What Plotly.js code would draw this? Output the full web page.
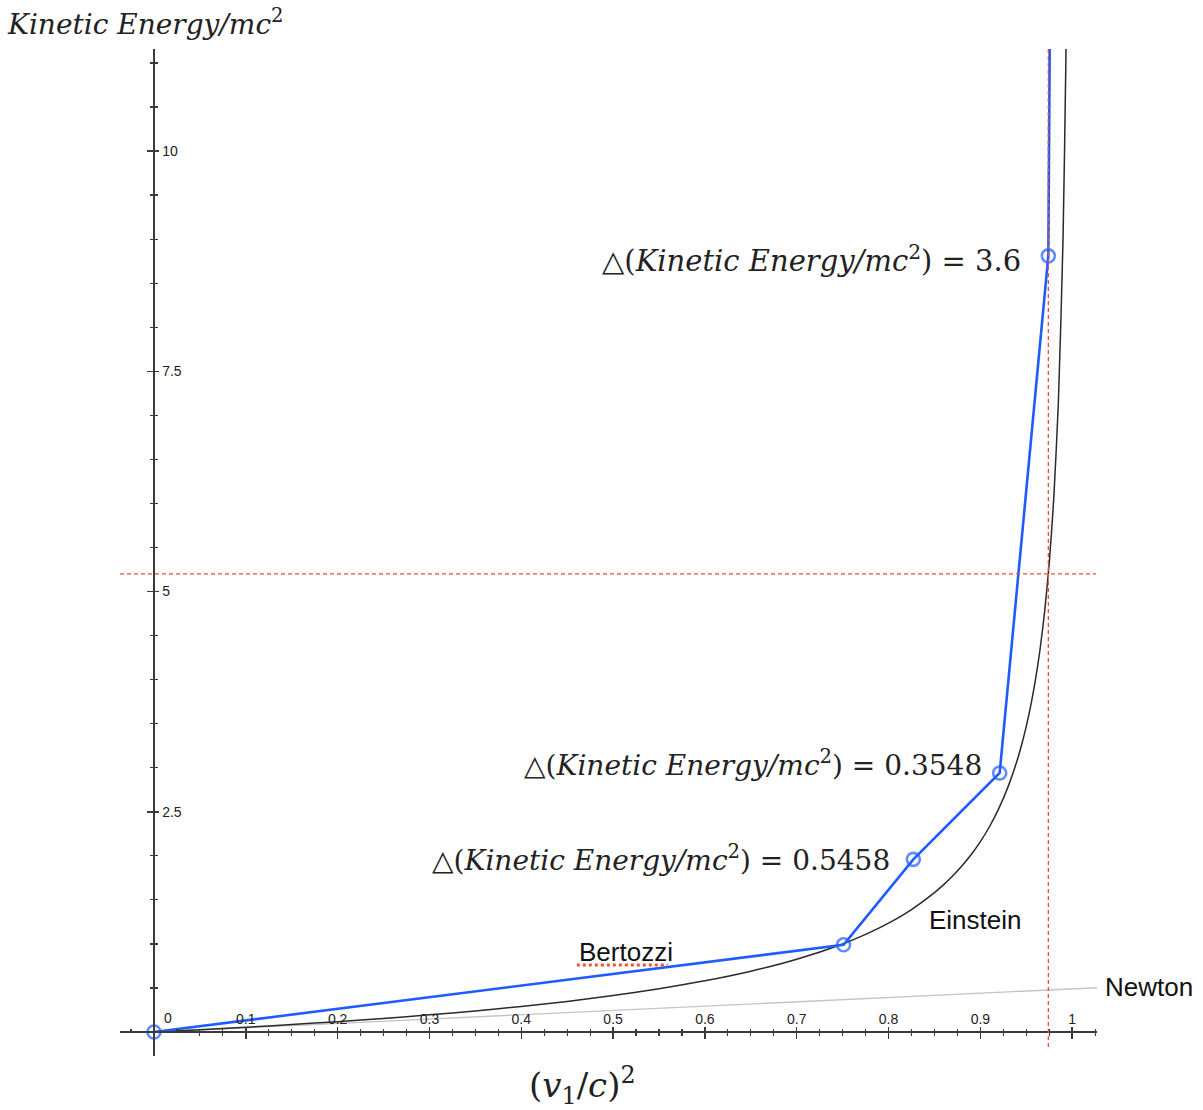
<!DOCTYPE html>
<html>
<head>
<meta charset="utf-8">
<script src="https://cdn.plot.ly/plotly-3.0.1.min.js"></script>
<style>html,body{margin:0;padding:0;background:#fff;}#chart{width:1203px;height:1110px;}</style>
</head>
<body>
<div id="chart"></div>
<script>
// ---- data ----
const einsteinX = [0, 0.05, 0.1, 0.15, 0.2, 0.25, 0.3, 0.35, 0.4, 0.45, 0.5, 0.55, 0.6, 0.65, 0.7, 0.75, 0.775, 0.8, 0.825, 0.85, 0.86, 0.87, 0.88, 0.89, 0.9, 0.91, 0.92, 0.93, 0.94, 0.945, 0.95, 0.955, 0.96, 0.965, 0.97, 0.975, 0.98, 0.985, 0.99, 0.993, 0.9933];
const einsteinY = [0, 0.026, 0.054, 0.085, 0.118, 0.155, 0.195, 0.240, 0.291, 0.348, 0.414, 0.491, 0.581, 0.690, 0.826, 1.0, 1.108, 1.236, 1.390, 1.582, 1.673, 1.774, 1.887, 2.015, 2.162, 2.333, 2.536, 2.780, 3.082, 3.264, 3.472, 3.714, 4.0, 4.345, 4.774, 5.325, 6.071, 7.165, 9.0, 10.95, 11.22];
const newtonX = [0, 1.03];
const newtonY = [0, 0.505];
const bertozziX = [0, 0.751, 0.827, 0.921, 0.974, 0.9755];
const bertozziY = [0, 0.99, 1.96, 2.94, 8.81, 11.2];
const bertozziMarkerSize = [13, 13, 13, 13, 13, 0];
const refX = 0.974;   // vertical red dashed line
const refY = 5.2;     // horizontal red dashed line
const xTickVals = [0, 0.1, 0.2, 0.3, 0.4, 0.5, 0.6, 0.7, 0.8, 0.9, 1];
const xTickText = ['', '0.1', '0.2', '0.3', '0.4', '0.5', '0.6', '0.7', '0.8', '0.9', '1'];
const yTickVals = [2.5, 5, 7.5, 10];
const yTickText = ['2.5', '5', '7.5', '10'];
const deltaLabels = ['3.6', '0.3548', '0.5458'];

const XR = [-0.037, 1.027];
const YR = [-0.272, 11.158];
const axisCol = '#3a3a3a';
const serif = '"DejaVu Serif", "Liberation Serif", serif';
const sans = '"Liberation Sans", Arial, sans-serif';

const traces = [
  {x: newtonX, y: newtonY, mode: 'lines', line: {color: '#c4c4c4', width: 1.4}, cliponaxis: false, hoverinfo: 'skip'},
  {x: einsteinX, y: einsteinY, mode: 'lines', line: {color: '#2a2a2a', width: 1.5, shape: 'spline', smoothing: 0.6}, hoverinfo: 'skip'},
  {x: bertozziX, y: bertozziY, mode: 'lines+markers',
   line: {color: '#1f5cff', width: 2.6},
   marker: {symbol: 'circle-open', size: bertozziMarkerSize, color: '#1f5cff', line: {width: 2.6, color: '#1f5cff'}},
   cliponaxis: false, hoverinfo: 'skip'},
  {x: [], y: [], xaxis: 'x2', yaxis: 'y2', hoverinfo: 'skip'}
];

const axBase = {
  showgrid: false, zeroline: false, showline: true, linecolor: axisCol, linewidth: 2,
  anchor: 'free', fixedrange: true
};

const layout = {
  width: 1203, height: 1110,
  margin: {l: 120, r: 106, t: 49, b: 54},
  paper_bgcolor: '#fff', plot_bgcolor: '#fff',
  showlegend: false,
  xaxis: Object.assign({}, axBase, {
    range: XR, position: 0.02383, side: 'bottom',
    tickmode: 'array', tickvals: xTickVals, ticktext: xTickText,
    ticks: 'outside', ticklen: 6, tickwidth: 1.5, tickcolor: axisCol,
    ticklabelposition: 'inside', ticklabelstandoff: 4,
    tickfont: {family: sans, size: 14, color: '#222'},
    minor: {tickmode: 'linear', tick0: 0, dtick: 0.025, ticks: 'outside', ticklen: 3, tickwidth: 1.2, tickcolor: axisCol}
  }),
  yaxis: Object.assign({}, axBase, {
    range: YR, position: 0.0348, side: 'left',
    tickmode: 'array', tickvals: yTickVals, ticktext: yTickText,
    ticks: 'outside', ticklen: 6, tickwidth: 1.5, tickcolor: axisCol,
    ticklabelposition: 'inside', ticklabelstandoff: 7,
    tickfont: {family: sans, size: 14, color: '#222'},
    minor: {tickmode: 'linear', tick0: 0, dtick: 0.5, ticks: 'outside', ticklen: 3, tickwidth: 1.2, tickcolor: axisCol}
  }),
  xaxis2: Object.assign({}, axBase, {
    overlaying: 'x', matches: 'x', range: XR, position: 0.02383, side: 'bottom', showline: false,
    tickmode: 'array', tickvals: xTickVals, showticklabels: false,
    ticks: 'inside', ticklen: 5, tickwidth: 1.5, tickcolor: axisCol,
    minor: {tickmode: 'linear', tick0: 0, dtick: 0.025, ticks: 'inside', ticklen: 3, tickwidth: 1.2, tickcolor: axisCol}
  }),
  yaxis2: Object.assign({}, axBase, {
    overlaying: 'y', matches: 'y', range: YR, position: 0.0348, side: 'left', showline: false,
    tickmode: 'array', tickvals: yTickVals, showticklabels: false,
    ticks: 'inside', ticklen: 4, tickwidth: 1.5, tickcolor: axisCol,
    minor: {tickmode: 'linear', tick0: 0, dtick: 0.5, ticks: 'inside', ticklen: 3, tickwidth: 1.2, tickcolor: axisCol}
  }),
  shapes: [
    {type: 'line', xref: 'x', yref: 'paper', x0: refX, x1: refX, y0: 0.009, y1: 1,
     line: {color: '#f04a3a', width: 1.3, dash: '4px,3px'}},
    {type: 'line', xref: 'paper', yref: 'y', x0: 0, x1: 0.999, y0: refY, y1: refY,
     line: {color: '#f04a3a', width: 1.3, dash: '4px,3px'}},
    {type: 'line', xref: 'x', yref: 'y', x0: 0.4605, x1: 0.5595, y0: 0.76, y1: 0.76,
     line: {color: '#f0552f', width: 3, dash: 'dot'}}
  ],
  annotations: [
    {xref: 'paper', yref: 'paper', x: -0.1177, y: 1.0268, xanchor: 'left', yanchor: 'middle', showarrow: false,
     text: '<i>Kinetic Energy/mc</i><sup>2</sup>', font: {family: serif, size: 28, color: '#222'}},
    {xref: 'paper', yref: 'paper', x: 0.473, y: -0.029, xanchor: 'center', yanchor: 'middle', showarrow: false,
     text: '(<i>v</i><sub>1</sub>/<i>c</i>)<sup>2</sup>', font: {family: serif, size: 34, color: '#222'}},
    {xref: 'x', yref: 'y', x: 0.9469, y: 8.774, xanchor: 'right', yanchor: 'middle', showarrow: false,
     text: '△(<i>Kinetic Energy/mc</i><sup>2</sup>) = ' + deltaLabels[0], font: {family: serif, size: 29, color: '#222'}},
    {xref: 'x', yref: 'y', x: 0.9034, y: 3.053, xanchor: 'right', yanchor: 'middle', showarrow: false,
     text: '△(<i>Kinetic Energy/mc</i><sup>2</sup>) = ' + deltaLabels[1], font: {family: serif, size: 28, color: '#222'}},
    {xref: 'x', yref: 'y', x: 0.8032, y: 1.975, xanchor: 'right', yanchor: 'middle', showarrow: false,
     text: '△(<i>Kinetic Energy/mc</i><sup>2</sup>) = ' + deltaLabels[2], font: {family: serif, size: 28, color: '#222'}},
    {xref: 'x', yref: 'y', x: 0.4605, y: 0.908, xanchor: 'left', yanchor: 'middle', showarrow: false,
     text: 'Bertozzi', font: {family: sans, size: 26, color: '#111'}},
    {xref: 'x', yref: 'y', x: 0.8424, y: 1.271, xanchor: 'left', yanchor: 'middle', showarrow: false,
     text: 'Einstein', font: {family: sans, size: 26, color: '#111'}},
    {xref: 'paper', yref: 'paper', x: 1.0061, y: 0.0685, xanchor: 'left', yanchor: 'middle', showarrow: false,
     text: 'Newton', font: {family: sans, size: 26, color: '#111'}},
    {xref: 'x', yref: 'y', x: 0.0155, y: 0.16, xanchor: 'center', yanchor: 'middle', showarrow: false,
     text: '0', font: {family: sans, size: 14, color: '#222'}}
  ]
};

Plotly.newPlot('chart', traces, layout, {displayModeBar: false, staticPlot: true});
</script>
</body>
</html>
